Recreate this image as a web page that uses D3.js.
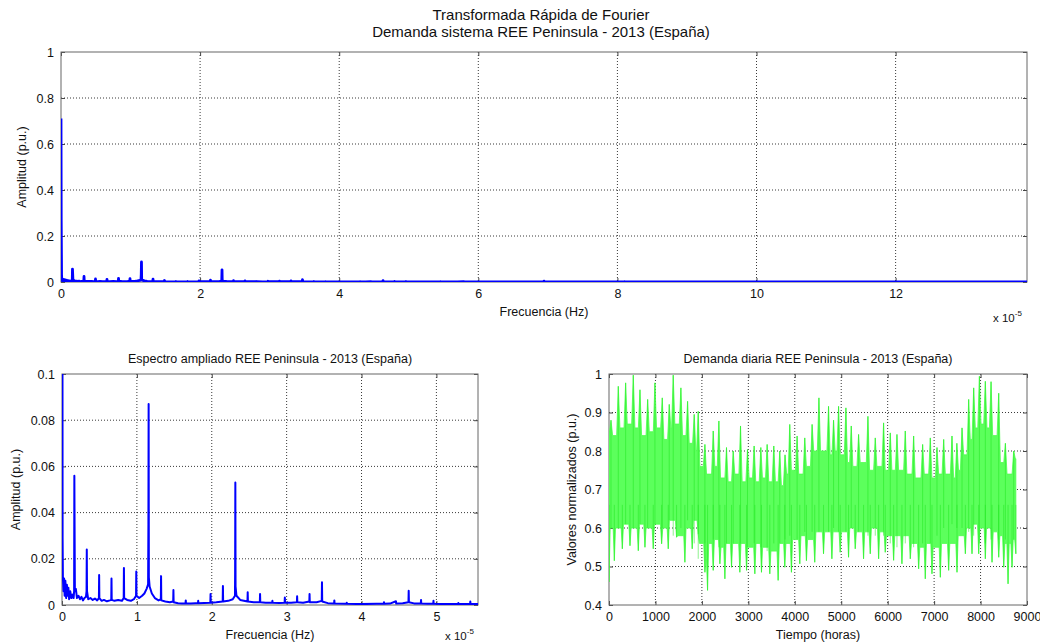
<!DOCTYPE html>
<html lang="es">
<head>
<meta charset="utf-8">
<title>FFT demanda REE 2013</title>
<script src="https://cdn.jsdelivr.net/npm/d3@7"></script>
<style>
  body { margin: 0; background: #fff; }
  svg text { font-family: "Liberation Sans", Arial, sans-serif; fill: #111; }
  .grid line { stroke: #222; stroke-dasharray: 1,2; stroke-width: 0.9; }
  .marco { fill: none; stroke: #666; stroke-width: 1; }
  .tick line { stroke: #444; }
</style>
</head>
<body>
<svg id="fig" width="1040" height="643"></svg>
<script>
// espectro FFT: [frecuencia (x 1e-5 Hz), amplitud (p.u.)]
var espectro = [
  [0, 0.711], [0.003, 0.268], [0.008, 0.029], [0.012, 0.0118], [0.02, 0.006], [0.028, 0.0115],
  [0.035, 0.004], [0.045, 0.0105], [0.055, 0.003], [0.065, 0.0088], [0.075, 0.004], [0.085, 0.0075],
  [0.095, 0.0025], [0.11, 0.006], [0.125, 0.003], [0.14, 0.0045], [0.155, 0.003], [0.162, 0.006],
  [0.165, 0.056], [0.168, 0.034], [0.172, 0.006], [0.185, 0.007], [0.2, 0.003], [0.22, 0.004],
  [0.24, 0.0025], [0.26, 0.0035], [0.28, 0.002], [0.3, 0.003], [0.32, 0.0035], [0.328, 0.006],
  [0.331, 0.024], [0.334, 0.006], [0.35, 0.0025], [0.38, 0.003], [0.41, 0.0022], [0.44, 0.0028],
  [0.47, 0.002], [0.493, 0.003], [0.496, 0.013], [0.499, 0.003], [0.53, 0.0018], [0.56, 0.0022],
  [0.6, 0.0016], [0.64, 0.002], [0.658, 0.0022], [0.661, 0.0115], [0.664, 0.0022], [0.7, 0.0018],
  [0.75, 0.0022], [0.8, 0.0018], [0.824, 0.003], [0.827, 0.016], [0.83, 0.003], [0.87, 0.0022],
  [0.92, 0.0018], [0.96, 0.0025], [0.989, 0.004], [0.992, 0.0145], [0.995, 0.004], [1.03, 0.003],
  [1.07, 0.004], [1.1, 0.005], [1.13, 0.007], [1.15, 0.009], [1.154, 0.035], [1.157, 0.087],
  [1.16, 0.012], [1.17, 0.008], [1.2, 0.005], [1.24, 0.003], [1.29, 0.002], [1.32, 0.0025],
  [1.323, 0.0125], [1.326, 0.002], [1.38, 0.0015], [1.44, 0.0012], [1.485, 0.0015], [1.488, 0.0065],
  [1.491, 0.0012], [1.55, 0.0008], [1.6, 0.0007], [1.65, 0.0008], [1.653, 0.002], [1.656, 0.0007],
  [1.72, 0.0007], [1.78, 0.0008], [1.816, 0.0008], [1.819, 0.0018], [1.822, 0.0008], [1.9, 0.0009],
  [1.981, 0.001], [1.984, 0.0048], [1.987, 0.001], [2.06, 0.0012], [2.146, 0.0015], [2.149, 0.0082],
  [2.152, 0.0015], [2.22, 0.0018], [2.28, 0.0025], [2.31, 0.004], [2.312, 0.014], [2.315, 0.053],
  [2.318, 0.008], [2.33, 0.004], [2.38, 0.0022], [2.477, 0.0015], [2.48, 0.0055], [2.483, 0.0015],
  [2.56, 0.0012], [2.642, 0.0012], [2.645, 0.0048], [2.648, 0.0012], [2.72, 0.001], [2.807, 0.001],
  [2.81, 0.0018], [2.813, 0.001], [2.9, 0.0009], [2.973, 0.001], [2.976, 0.0032], [2.979, 0.001],
  [3.06, 0.001], [3.137, 0.0012], [3.14, 0.0038], [3.143, 0.0012], [3.22, 0.001], [3.303, 0.0015],
  [3.306, 0.0048], [3.309, 0.0012], [3.4, 0.0012], [3.469, 0.0018], [3.472, 0.0098], [3.475, 0.0015],
  [3.55, 0.0008], [3.634, 0.0007], [3.637, 0.002], [3.64, 0.0006], [3.8, 0.0005], [3.803, 0.001],
  [3.806, 0.0005], [4.0, 0.0004], [4.2, 0.0005], [4.297, 0.0005], [4.3, 0.0012], [4.303, 0.0005],
  [4.38, 0.0006], [4.46, 0.0016], [4.463, 0.0006], [4.55, 0.0008], [4.627, 0.0012], [4.63, 0.0062],
  [4.633, 0.0012], [4.7, 0.0007], [4.792, 0.0007], [4.795, 0.0022], [4.798, 0.0006], [4.88, 0.0005],
  [4.958, 0.0005], [4.961, 0.0018], [4.964, 0.0005], [5.1, 0.0004], [5.29, 0.0004], [5.293, 0.0009],
  [5.296, 0.0004], [5.45, 0.0004], [5.453, 0.0015], [5.456, 0.0004], [5.7, 0.0004], [5.79, 0.0012],
  [5.8, 0.0004], [6.5, 0.0004], [6.94, 0.0005], [6.944, 0.004], [6.948, 0.0005], [8.1, 0.0004],
  [8.102, 0.0012], [8.104, 0.0004], [10, 0.0003], [12, 0.0003], [13.889, 0.0003]
]

// demanda horaria: picos superiores (hora, valor) y valor de la muesca que sigue a cada pico
var tPicoSup = [43, 200, 358, 523, 667, 832, 989, 1147, 1297, 1383, 1548, 1692, 1835, 1921,
  2065, 2244, 2366, 2530, 2674, 2832, 2982, 3125, 3269, 3405, 3548, 3677, 3790, 3892, 4050, 4215, 4373,
  4520, 4727, 4835, 4943, 5101, 5216, 5374, 5575, 5733, 5912, 6056, 6200, 6379, 6559, 6753, 6918,
  7062, 7206, 7385, 7490, 7601, 7744, 7852, 7975, 8103, 8226, 8391, 8535, 8714]
var vPicoSup = [0.88, 0.968, 0.977, 0.997, 0.959, 0.934, 0.977, 0.938, 0.921, 0.997, 0.964, 0.929, 0.895, 0.903,
  0.817, 0.852, 0.878, 0.809, 0.80, 0.865, 0.804, 0.813, 0.809, 0.817, 0.813, 0.80, 0.79, 0.869, 0.839, 0.834, 0.869,
  0.938, 0.916, 0.88, 0.916, 0.912, 0.865, 0.843, 0.89, 0.834, 0.873, 0.847, 0.843, 0.852, 0.839, 0.817, 0.834,
  0.809, 0.83, 0.839, 0.82, 0.86, 0.934, 0.964, 0.994, 0.981, 0.98, 0.95, 0.82, 0.80]
var vMuescaSup = [0.84, 0.86, 0.87, 0.86, 0.84, 0.85, 0.86, 0.83, 0.86, 0.87, 0.84, 0.82, 0.80, 0.76,
  0.74, 0.76, 0.73, 0.72, 0.74, 0.72, 0.73, 0.72, 0.73, 0.72, 0.72, 0.71, 0.74, 0.75, 0.74, 0.76, 0.80,
  0.80, 0.79, 0.80, 0.79, 0.77, 0.76, 0.77, 0.75, 0.76, 0.75, 0.75, 0.75, 0.74, 0.73, 0.74, 0.73,
  0.74, 0.74, 0.73, 0.75, 0.79, 0.83, 0.86, 0.87, 0.86, 0.84, 0.77, 0.74, 0.78]

// picos inferiores (valles de fin de semana / noche)
var tPicoInf = [0, 115, 287, 452, 631, 774, 953, 1133, 1276, 1455, 1634, 1792, 1921,
  2065, 2122, 2244, 2387, 2495, 2638, 2817, 2961, 3140, 3283, 3462, 3642, 3785, 3928, 4108, 4251, 4430,
  4619, 4799, 4978, 5158, 5302, 5481, 5625, 5805, 5948, 6128, 6307, 6487, 6667, 6810, 6954, 7134, 7313, 7493,
  7673, 7816, 7960, 8103, 8247, 8391, 8499, 8592, 8678, 8760]
var vPicoInf = [0.46, 0.515, 0.546, 0.554, 0.541, 0.55, 0.546, 0.559, 0.546, 0.576, 0.511, 0.546, 0.584,
  0.485, 0.438, 0.49, 0.507, 0.468, 0.498, 0.485, 0.49, 0.481, 0.485, 0.481, 0.464, 0.498, 0.485, 0.507, 0.515, 0.511,
  0.533, 0.52, 0.537, 0.524, 0.546, 0.52, 0.533, 0.52, 0.537, 0.516, 0.507, 0.52, 0.494, 0.468, 0.481, 0.472, 0.49, 0.485,
  0.533, 0.533, 0.533, 0.52, 0.511, 0.524, 0.498, 0.455, 0.498, 0.533]
var vMuescaInf = [0.60, 0.60, 0.61, 0.60, 0.61, 0.60, 0.61, 0.60, 0.62, 0.58, 0.60, 0.62, 0.56,
  0.52, 0.56, 0.57, 0.55, 0.56, 0.56, 0.56, 0.55, 0.56, 0.55, 0.54, 0.56, 0.56, 0.57, 0.58, 0.57, 0.59,
  0.59, 0.59, 0.59, 0.60, 0.59, 0.59, 0.60, 0.59, 0.58, 0.58, 0.58, 0.56, 0.55, 0.56, 0.55, 0.56, 0.56, 0.58,
  0.60, 0.61, 0.60, 0.60, 0.59, 0.58, 0.56, 0.56, 0.57, 0.57]
var inicioSup = 0.84

// ticks
var ticksFrecTotal = [0, 2, 4, 6, 8, 10, 12]
var ticksAmpTotal = [0, 0.2, 0.4, 0.6, 0.8, 1]
var ticksFrecZoom = [0, 1, 2, 3, 4, 5]
var ticksAmpZoom = [0, 0.02, 0.04, 0.06, 0.08, 0.1]
var ticksHoras = [0, 1000, 2000, 3000, 4000, 5000, 6000, 7000, 8000, 9000]
var ticksDemanda = [0.4, 0.5, 0.6, 0.7, 0.8, 0.9, 1]

var svg = d3.select("#fig")
var fuente = 12.5

svg.append("text").attr("x", 541).attr("y", 20).attr("text-anchor", "middle")
  .style("font-size", "15px").text("Transformada Rápida de Fourier")
svg.append("text").attr("x", 541).attr("y", 37).attr("text-anchor", "middle")
  .style("font-size", "15px").text("Demanda sistema REE Peninsula - 2013 (España)")

function ejes(c) {
  var x = d3.scaleLinear().domain(c.xd).range([c.l, c.r])
  var y = d3.scaleLinear().domain(c.yd).range([c.b, c.t])
  var g = svg.append("g")

  var grid = g.append("g").attr("class", "grid")
  grid.selectAll(".gx").data(c.xt.filter(d => d > c.xd[0] && d < c.xd[1])).enter().append("line")
    .attr("x1", d => x(d)).attr("x2", d => x(d)).attr("y1", c.t).attr("y2", c.b)
  grid.selectAll(".gy").data(c.yt.filter(d => d > c.yd[0] && d < c.yd[1])).enter().append("line")
    .attr("y1", d => y(d)).attr("y2", d => y(d)).attr("x1", c.l).attr("x2", c.r)

  g.append("g").attr("transform", `translate(0,${c.b})`)
    .call(d3.axisBottom(x).tickValues(c.xt).tickSizeInner(-4).tickSizeOuter(0).tickPadding(7).tickFormat(d3.format("")))
  g.append("g").attr("transform", `translate(0,${c.t})`)
    .call(d3.axisTop(x).tickValues(c.xt).tickSizeInner(-4).tickSizeOuter(0).tickFormat(""))
  g.append("g").attr("transform", `translate(${c.l},0)`)
    .call(d3.axisLeft(y).tickValues(c.yt).tickSizeInner(-4).tickSizeOuter(0).tickPadding(7).tickFormat(d3.format("")))
  g.append("g").attr("transform", `translate(${c.r},0)`)
    .call(d3.axisRight(y).tickValues(c.yt).tickSizeInner(-4).tickSizeOuter(0).tickFormat(""))
  g.selectAll(".domain").remove()
  g.selectAll(".tick text").style("font-size", fuente + "px").style("font-family", null).attr("fill", null)

  g.append("rect").attr("class", "marco")
    .attr("x", c.l).attr("y", c.t).attr("width", c.r - c.l).attr("height", c.b - c.t)

  var id = "clip" + Math.round(c.l) + Math.round(c.t)
  svg.append("clipPath").attr("id", id).append("rect")
    .attr("x", c.l).attr("y", c.t).attr("width", c.r - c.l).attr("height", c.b - c.t)
  var plot = svg.append("g").attr("clip-path", `url(#${id})`)

  if (c.titulo) svg.append("text").attr("x", (c.l + c.r) / 2).attr("y", c.t - 11)
    .attr("text-anchor", "middle").style("font-size", fuente + "px").text(c.titulo)
  svg.append("text").attr("x", (c.l + c.r) / 2).attr("y", c.b + 34)
    .attr("text-anchor", "middle").style("font-size", fuente + "px").text(c.xlab)
  svg.append("text").attr("transform", `translate(${c.ylx},${(c.t + c.b) / 2}) rotate(-90)`)
    .attr("text-anchor", "middle").style("font-size", fuente + "px").text(c.ylab)
  if (c.exp) {
    var e = svg.append("text").attr("x", c.exp[0]).attr("y", c.exp[1]).style("font-size", "11.5px")
    e.append("tspan").text("x 10")
    e.append("tspan").attr("dy", -6).style("font-size", "8px").text("-5")
  }
  return { x: x, y: y, plot: plot }
}

// panel superior: espectro completo
var p1 = ejes({ l: 61, r: 1027, t: 52, b: 282, xd: [0, 13.889], yd: [0, 1],
  xt: ticksFrecTotal, yt: ticksAmpTotal, xlab: "Frecuencia (Hz)", ylab: "Amplitud (p.u.)",
  ylx: 26, exp: [993, 322] })
p1.plot.append("path").datum(espectro)
  .attr("fill", "none").attr("stroke", "#0000ff").attr("stroke-width", 2.8).attr("stroke-linejoin", "round")
  .attr("d", d3.line().x(d => p1.x(d[0])).y(d => p1.y(d[1])))

// panel inferior izquierdo: espectro ampliado
var p2 = ejes({ l: 62, r: 478, t: 374, b: 605, xd: [0, 5.5556], yd: [0, 0.1],
  xt: ticksFrecZoom, yt: ticksAmpZoom, xlab: "Frecuencia (Hz)", ylab: "Amplitud (p.u.)",
  ylx: 20, exp: [445, 640], titulo: "Espectro ampliado REE Peninsula - 2013 (España)" })
p2.plot.append("path").datum(espectro)
  .attr("fill", "none").attr("stroke", "#0000ff").attr("stroke-width", 2).attr("stroke-linejoin", "round")
  .attr("d", d3.line().x(d => p2.x(d[0])).y(d => p2.y(d[1])))

// panel inferior derecho: demanda horaria
var p3 = ejes({ l: 609, r: 1027, t: 374, b: 605, xd: [0, 9000], yd: [0.4, 1],
  xt: ticksHoras, yt: ticksDemanda, xlab: "Tiempo (horas)", ylab: "Valores normalizados (p.u.)",
  ylx: 576, titulo: "Demanda diaria REE Peninsula - 2013 (España)" })

var fin = 8760
var sup = [[0, inicioSup]]
tPicoSup.forEach(function(t, i) {
  var sig = i < tPicoSup.length - 1 ? tPicoSup[i + 1] - 35 : fin
  sup.push([t, vPicoSup[i]], [t + 35, vMuescaSup[i]], [sig, vMuescaSup[i]])
})
var inf = []
tPicoInf.forEach(function(t, i) {
  inf.push([t, vPicoInf[i]])
  if (i < tPicoInf.length - 1) inf.push([t + 25, vMuescaInf[i]], [tPicoInf[i + 1] - 25, vMuescaInf[i]])
})
var contorno = sup.concat(inf.reverse())
var linea = d3.line().x(d => p3.x(d[0])).y(d => p3.y(d[1]))

p3.plot.append("path").attr("d", linea(contorno) + "Z")
  .attr("fill", "#5cff5c").attr("stroke", "#4dff4d").attr("stroke-width", 0.8)

// trazos verticales mas oscuros en cada pico
p3.plot.selectAll(".trazoSup").data(tPicoSup).enter().append("line")
  .attr("x1", d => p3.x(d)).attr("x2", d => p3.x(d))
  .attr("y1", (d, i) => p3.y(vPicoSup[i])).attr("y2", (d, i) => p3.y(vMuescaInf[Math.min(i, vMuescaInf.length - 1)]))
  .attr("stroke", "#1ee81e").attr("stroke-width", 1).attr("opacity", 0.5)
p3.plot.selectAll(".trazoInf").data(tPicoInf).enter().append("line")
  .attr("x1", d => p3.x(d)).attr("x2", d => p3.x(d))
  .attr("y1", (d, i) => p3.y(vPicoInf[i])).attr("y2", p3.y(0.66))
  .attr("stroke", "#1ee81e").attr("stroke-width", 1).attr("opacity", 0.5)
</script>
</body>
</html>
